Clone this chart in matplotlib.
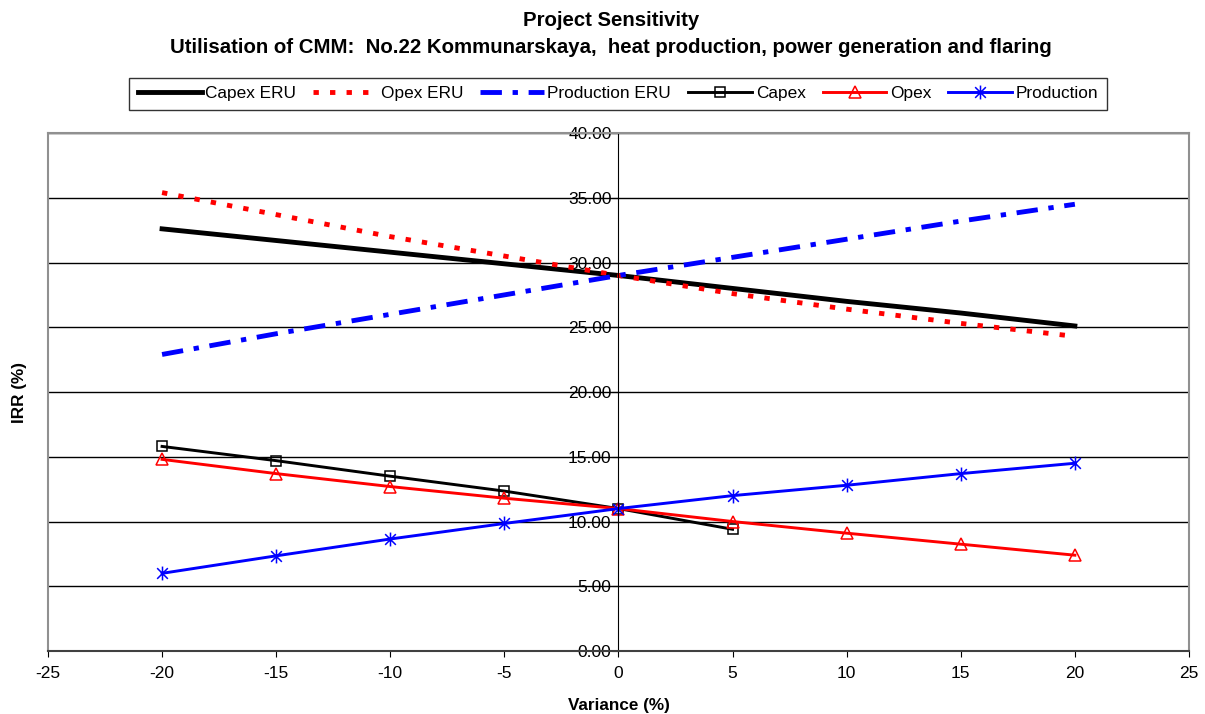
import numpy as np
import matplotlib
matplotlib.use('Agg')
import matplotlib.pyplot as plt
from matplotlib.path import Path

plt.rcParams['font.family'] = ['Liberation Sans', 'DejaVu Sans']
plt.rcParams['axes.unicode_minus'] = False

variance = [-20, -15, -10, -5, 0, 5, 10, 15, 20]
capex_eru = [32.6, 31.7, 30.8, 29.9, 29.0, 28.0, 27.0, 26.1, 25.1]
opex_eru = [35.4, 33.7, 32.0, 30.5, 29.0, 27.6, 26.4, 25.3, 24.3]
prod_eru = [22.9, 24.5, 26.0, 27.5, 29.0, 30.4, 31.8, 33.2, 34.5]

capex_x = [-20, -15, -10, -5, 0, 5]
capex = [15.8, 14.7, 13.5, 12.35, 11.0, 9.4]
opex = [14.8, 13.7, 12.7, 11.8, 11.0, 10.0, 9.1, 8.25, 7.4]
production = [6.0, 7.35, 8.65, 9.85, 11.0, 12.0, 12.8, 13.7, 14.5]

# asterisk marker: x plus vertical bar
ast = Path([(-1, -1), (1, 1), (-1, 1), (1, -1), (0, -1.3), (0, 1.3)],
           [Path.MOVETO, Path.LINETO, Path.MOVETO, Path.LINETO, Path.MOVETO, Path.LINETO])

fig = plt.figure(figsize=(12.05, 7.14), dpi=100)
ax = fig.add_axes([0.0398, 0.0882, 0.9469, 0.7255])

ax.plot(variance, capex_eru, color='black', lw=3.5, label='Capex ERU')
ax.plot(variance, opex_eru, color='red', lw=3.5, ls=(0, (1.1, 2.3)), label='Opex ERU')
ax.plot(variance, prod_eru, color='blue', lw=3.5, ls=(0, (4.4, 2.2, 1.1, 2.2)), label='Production ERU')
ax.plot(capex_x, capex, color='black', lw=2.1, marker='s', ms=7.5, mfc='none', mec='black', mew=1.1, label='Capex')
ax.plot(variance, opex, color='red', lw=2.1, marker='^', ms=8.5, mfc='none', mec='red', mew=1.1, label='Opex')
ax.plot(variance, production, color='blue', lw=2.1, marker=ast, ms=10, mec='blue', mew=1.1, label='Production')

ax.set_xlim(-25, 25)
ax.set_ylim(0, 40)
ax.set_xticks(range(-25, 30, 5))
ax.set_yticks(range(0, 45, 5))
ax.yaxis.set_major_formatter(matplotlib.ticker.FormatStrFormatter('%.2f'))
ax.yaxis.grid(True, color='black', lw=1)
ax.set_axisbelow(True)

ax.spines['left'].set_position(('data', 0))
ax.spines['left'].set_color('black')
ax.spines['bottom'].set_color('#404040')
ax.spines['bottom'].set_linewidth(1.5)
for s in ['top', 'right']:
    ax.spines[s].set_color('#909090')
    ax.spines[s].set_linewidth(1.5)
ax.axvline(-25, color='#909090', lw=1.5, clip_on=False)

ax.tick_params(axis='both', labelsize=12.5, direction='out', length=4, color='black')
ax.tick_params(axis='x', pad=7)
ax.tick_params(axis='y', pad=1)

ax.set_xlabel('Variance (%)', fontsize=12.3, fontweight='bold', labelpad=12)
fig.text(0.016, 0.45, 'IRR (%)', rotation=90, fontsize=12.3, fontweight='bold', ha='center', va='center')

fig.text(0.507, 0.971, 'Project Sensitivity', ha='center', va='center', fontsize=14.7, fontweight='bold')
fig.text(0.507, 0.934, 'Utilisation of CMM:  No.22 Kommunarskaya,  heat production, power generation and flaring',
         ha='center', va='center', fontsize=14.7, fontweight='bold')

leg = fig.legend(loc='center', bbox_to_anchor=(0.513, 0.8685), ncol=6, fontsize=12.4,
                 frameon=True, fancybox=False, edgecolor='black', handlelength=3.7,
                 columnspacing=1.0, handletextpad=0.2, borderpad=0.5)
leg.get_frame().set_linewidth(1.0)

fig.savefig('out.png', dpi=100)
